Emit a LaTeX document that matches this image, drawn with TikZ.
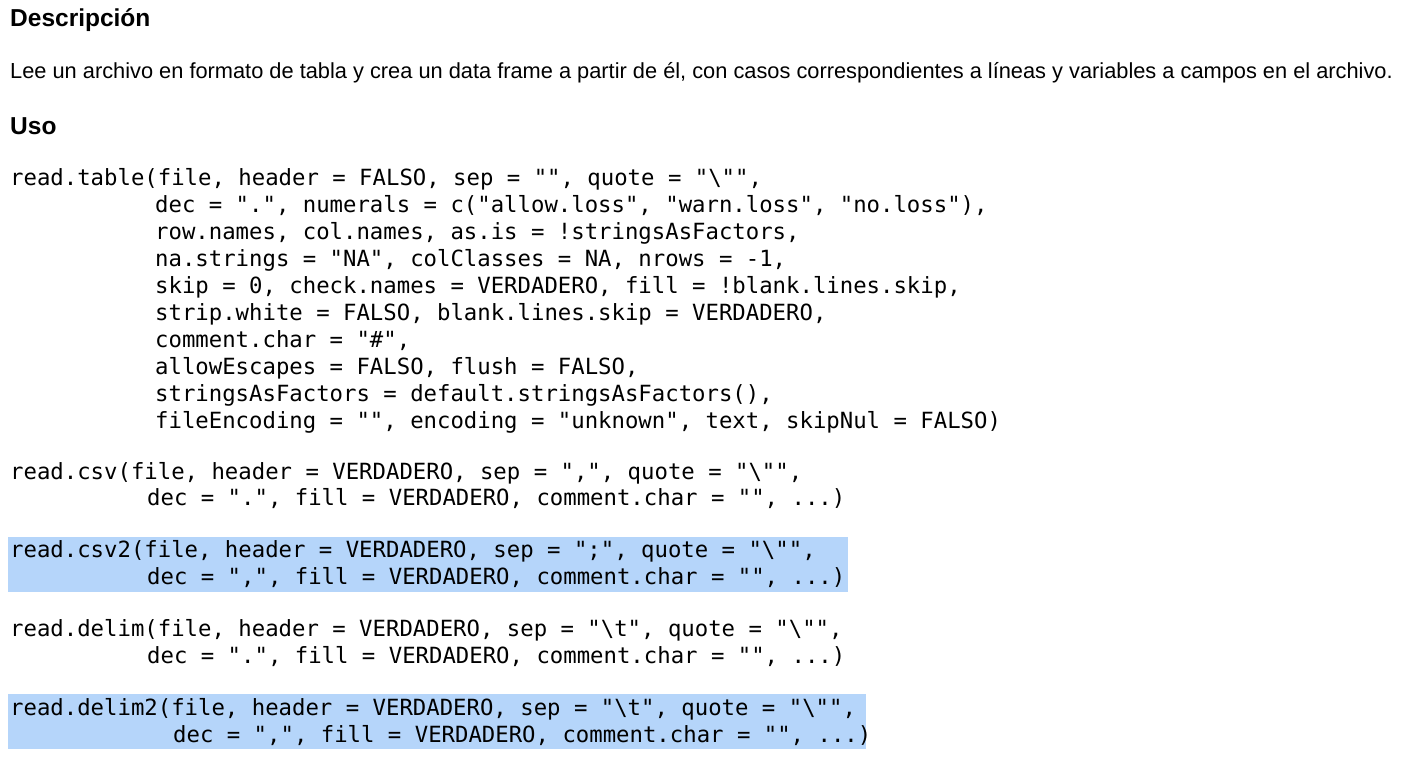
\documentclass[tikz,border=0pt]{standalone}
\usepackage{fontspec}
\setmainfont{Liberation Sans}
\setmonofont{DejaVu Sans Mono}
\definecolor{hl}{RGB}{181,213,250}
\begin{document}
\begin{tikzpicture}[x=1pt,y=-1pt,
  head/.style={anchor=west,inner sep=0pt,font=\fontsize{24.5}{28}\selectfont\bfseries},
  para/.style={anchor=west,inner sep=0pt,font=\fontsize{21.8}{25}\selectfont},
  code/.style={anchor=west,inner sep=0pt,font=\fontsize{22.3}{27}\ttfamily}]
\useasboundingbox[fill=white] (0,0) rectangle (1408,768);
\fill[hl] (8,537) rectangle (848,592);
\fill[hl] (8,694) rectangle (866,749);
\node[head] (h1) at (10,20) {Descripción};
\node[para] (p1) at (10,73) {Lee un archivo en formato de tabla y crea un data frame a partir de él, con casos correspondientes a líneas y variables a campos en el archivo.};
\node[head] (h2) at (10,126) {Uso};
\node[code] (a1) at (10,179) {read.table(file, header = FALSO, sep = "", quote = "\textbackslash"",};
\node[code] (a2) at (155,206) {dec = ".", numerals = c("allow.loss", "warn.loss", "no.loss"),};
\node[code] (a3) at (155,233) {row.names, col.names, as.is = !stringsAsFactors,};
\node[code] (a4) at (155,260) {na.strings = "NA", colClasses = NA, nrows = -1,};
\node[code] (a5) at (155,287) {skip = 0, check.names = VERDADERO, fill = !blank.lines.skip,};
\node[code] (a6) at (155,314) {strip.white = FALSO, blank.lines.skip = VERDADERO,};
\node[code] (a7) at (155,341) {comment.char = "\#",};
\node[code] (a8) at (155,368) {allowEscapes = FALSO, flush = FALSO,};
\node[code] (a9) at (155,395) {stringsAsFactors = default.stringsAsFactors(),};
\node[code] (a10) at (155,422) {fileEncoding = "", encoding = "unknown", text, skipNul = FALSO)};
\node[code] (b1) at (10,473) {read.csv(file, header = VERDADERO, sep = ",", quote = "\textbackslash"",};
\node[code] (b2) at (147,499) {dec = ".", fill = VERDADERO, comment.char = "", ...)};
\node[code] (c1) at (10,551) {read.csv2(file, header = VERDADERO, sep = ";", quote = "\textbackslash"",};
\node[code] (c2) at (147,578) {dec = ",", fill = VERDADERO, comment.char = "", ...)};
\node[code] (d1) at (10,630) {read.delim(file, header = VERDADERO, sep = "\textbackslash t", quote = "\textbackslash"",};
\node[code] (d2) at (147,657) {dec = ".", fill = VERDADERO, comment.char = "", ...)};
\node[code] (e1) at (10,709) {read.delim2(file, header = VERDADERO, sep = "\textbackslash t", quote = "\textbackslash"",};
\node[code] (e2) at (173,736) {dec = ",", fill = VERDADERO, comment.char = "", ...)};
\end{tikzpicture}
\end{document}
